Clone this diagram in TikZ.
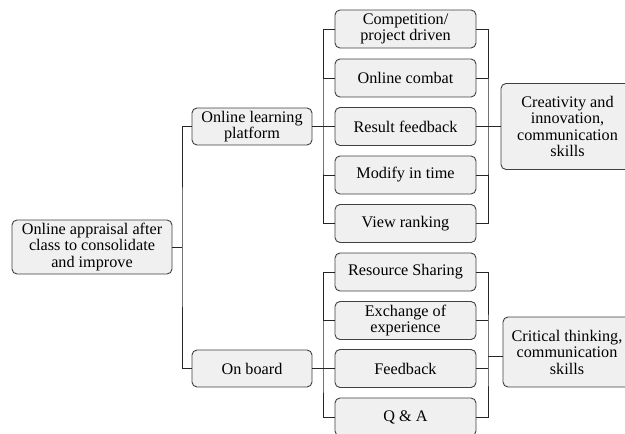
\documentclass[tikz,border=0pt]{standalone}
\usepackage{fontspec}
\setmainfont{Liberation Serif}

\tikzset{
  box/.style={draw=black!75, fill=black!6, rounded corners=5pt, align=center,
    inner sep=0pt, line width=0.9pt, font=\fontsize{16.2}{16.5}\selectfont},
  midbox/.style={box, minimum width=141, minimum height=38},
  subbox/.style={box, minimum width=120, minimum height=37},
  link/.style={draw=black!85, line width=0.8pt}
}

\begin{document}
\begin{tikzpicture}[x=1pt,y=-1pt]
  \useasboundingbox (0,0) rectangle (625,434);
  \clip (0,0) rectangle (625,434);

  \node[box, minimum width=160, minimum height=54] (root) at (92,247)
    {Online appraisal after\\class to consolidate\\and improve};

  \node[subbox] (platform) at (252,126.5) {Online learning\\platform};
  \node[subbox] (board) at (252,368.5) {On board};

  \node[midbox] (compete) at (405.5,29) {Competition/\\project driven};
  \node[midbox] (combat) at (405.5,78) {Online combat};
  \node[midbox] (result) at (405.5,126.5) {Result feedback};
  \node[midbox] (modify) at (405.5,175) {Modify in time};
  \node[midbox] (ranking) at (405.5,223.5) {View ranking};

  \node[midbox] (sharing) at (405.5,272) {Resource Sharing};
  \node[midbox] (exchange) at (405.5,320.5) {Exchange of\\experience};
  \node[midbox] (feedback) at (405.5,368.5) {Feedback};
  \node[midbox] (qa) at (405.5,417) {Q \& A};

  \node[box, minimum width=133, minimum height=86] (creative) at (567.5,126.5)
    {Creativity and\\innovation,\\communication\\skills};
  \node[box, minimum width=128, minimum height=70] (critical) at (567,352)
    {Critical thinking,\\communication\\skills};

  \coordinate (trunk0) at (182,247);
  \coordinate (trunk1) at (323,126.5);
  \coordinate (trunk2) at (488,126.5);
  \coordinate (trunk3) at (323,368.5);
  \coordinate (trunk4) at (488,356);

  \draw[link] (root.east) -- (trunk0);
  \draw[link] (platform.west) -| (trunk0) |- (board.west);

  \draw[link] (platform.east) -- (trunk1);
  \draw[link] (compete.west) -| (trunk1) |- (ranking.west);
  \draw[link] (compete.east) -| (trunk2) |- (ranking.east);
  \foreach \n in {combat,result,modify}{
    \draw[link] (\n.west) -- (\n.west -| trunk1);
    \draw[link] (\n.east) -- (\n.east -| trunk2);
  }
  \draw[link] (trunk2) -- (creative.west);

  \draw[link] (board.east) -- (trunk3);
  \draw[link] (sharing.west) -| (trunk3) |- (qa.west);
  \draw[link] (sharing.east) -| (trunk4) |- (qa.east);
  \foreach \n in {exchange,feedback}{
    \draw[link] (\n.west) -- (\n.west -| trunk3);
    \draw[link] (\n.east) -- (\n.east -| trunk4);
  }
  \draw[link] (trunk4) -- (critical.west |- trunk4);

\end{tikzpicture}
\end{document}
